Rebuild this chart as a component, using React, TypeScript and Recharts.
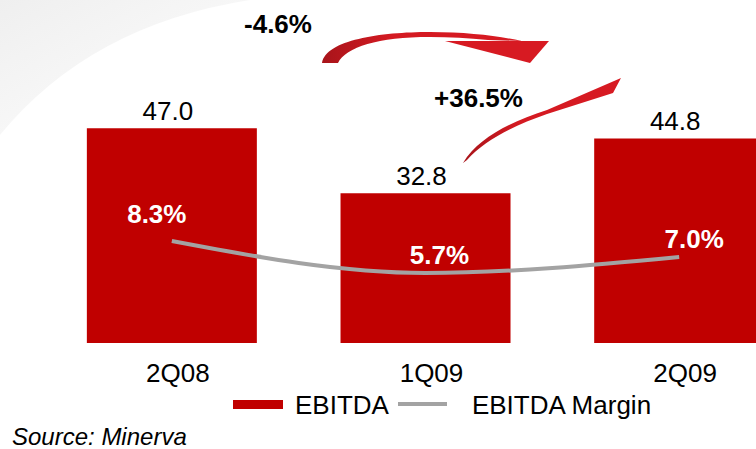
import React from 'react'
import {
  ComposedChart,
  Bar,
  Line,
  XAxis,
  YAxis,
  Legend,
  LabelList
} from 'recharts'

const categories = ['2Q08', '1Q09', '2Q09']
const ebitda = [47.0, 32.8, 44.8]
const ebitdaMargin = [8.3, 5.7, 7.0]
const changeLabels = ['-4.6%', '+36.5%']

const FONT = '"Liberation Sans", Arial, sans-serif'
const RED = '#C00000'
const GREY = '#A3A3A3'

// label nudges around the margin points (center of text relative to point)
const marginLabelNudge = [
  [-15, -27],
  [14, -18],
  [15, -18]
]

const data = categories.map((quarter, i) => ({
  quarter,
  ebitda: ebitda[i],
  margin: ebitdaMargin[i]
}))

function QuarterTick(props: any) {
  const { x, y, payload } = props
  return (
    <text x={x + 6} y={y + 31} textAnchor="middle" fontSize={26} fontFamily={FONT} fill="#000">
      {payload.value}
    </text>
  )
}

function BarValueLabel(props: any) {
  const vb = props.viewBox || props
  const cx = vb.x + vb.width / 2 - 4
  return (
    <text x={cx} y={vb.y - 8} textAnchor="middle" fontSize={26} fontFamily={FONT} fill="#000">
      {Number(props.value).toFixed(1)}
    </text>
  )
}

function MarginLabel(props: any) {
  const px = props.x ?? props.viewBox?.x
  const py = props.y ?? props.viewBox?.y
  const [dx, dy] = marginLabelNudge[props.index] || [0, -20]
  return (
    <text
      x={px + dx}
      y={py + dy}
      textAnchor="middle"
      dominantBaseline="central"
      fontSize={26}
      fontWeight="bold"
      fontFamily={FONT}
      fill="#fff"
    >
      {Number(props.value).toFixed(1)}%
    </text>
  )
}

function LegendBox(props: any) {
  const items = props.payload || []
  return (
    <div
      style={{
        display: 'flex',
        alignItems: 'center',
        paddingLeft: 233,
        fontFamily: FONT,
        fontSize: 26,
        lineHeight: '30px',
        color: '#000'
      }}
    >
      {items.map((item: any, i: number) => (
        <React.Fragment key={item.value}>
          {i === 0 ? (
            <span style={{ display: 'inline-block', width: 50, height: 9, background: RED, marginRight: 12, marginTop: -2 }} />
          ) : (
            <span style={{ display: 'inline-block', width: 49, height: 4, background: GREY, marginLeft: 9, marginRight: 25, marginTop: -2 }} />
          )}
          <span>{item.value}</span>
        </React.Fragment>
      ))}
    </div>
  )
}

export default function App() {
  return (
    <div style={{ position: 'absolute', left: 0, top: 0, width: 756, height: 449, overflow: 'hidden', background: '#fff' }}>
      <svg width={756} height={449} style={{ position: 'absolute', left: 0, top: 0 }}>
        <defs>
          <linearGradient id="corner" x1="0" y1="0" x2="1" y2="1">
            <stop offset="0%" stopColor="#efefef" />
            <stop offset="100%" stopColor="#ffffff" />
          </linearGradient>
        </defs>
        <path d="M0,0 H250 Q 90,25 0,135 Z" fill="url(#corner)" />
      </svg>

      <div style={{ position: 'absolute', left: 0, top: 0 }}>
        <ComposedChart
          width={806}
          height={449}
          data={data}
          margin={{ top: 69, right: 0, bottom: 76, left: 45 }}
          barCategoryGap="16.5%"
        >
          <XAxis
            dataKey="quarter"
            axisLine={false}
            tickLine={false}
            interval={0}
            tick={<QuarterTick />}
          />
          <YAxis yAxisId="left" hide domain={[0, 60]} />
          <YAxis yAxisId="right" hide orientation="right" domain={[0, 22.3]} />
          <Bar yAxisId="left" dataKey="ebitda" name="EBITDA" fill={RED} isAnimationActive={false}>
            <LabelList dataKey="ebitda" content={<BarValueLabel />} />
          </Bar>
          <Line
            yAxisId="right"
            type="monotone"
            dataKey="margin"
            name="EBITDA Margin"
            stroke={GREY}
            strokeWidth={4}
            dot={false}
            activeDot={false}
            isAnimationActive={false}
          >
            <LabelList dataKey="margin" content={<MarginLabel />} />
          </Line>
          <Legend
            layout="horizontal"
            verticalAlign="middle"
            align="center"
            content={<LegendBox />}
            wrapperStyle={{ position: 'absolute', left: 0, top: 390, width: 756 }}
          />
        </ComposedChart>
      </div>

      <svg width={756} height={449} style={{ position: 'absolute', left: 0, top: 0, pointerEvents: 'none' }}>
        <defs>
          <linearGradient id="arrowFill" x1="0" y1="0" x2="1" y2="0">
            <stop offset="0%" stopColor="#A8141A" />
            <stop offset="35%" stopColor="#D41A22" />
            <stop offset="100%" stopColor="#D71A22" />
          </linearGradient>
        </defs>
        {/* -4.6% arrow */}
        <path
          d="M322,63 C326,40 380,32 430,32 C468,32 498,36 522,41 L488,40 C468,38 450,37 430,37 C378,37 346,47 338,63 Z"
          fill="url(#arrowFill)"
        />
        <path d="M445,41 L549,41 L530,63 Z" fill="#D71A22" />
        {/* +36.5% arrow */}
        <path
          d="M463,163 C478,138 510,122 547,110 L621,78 L613,93 L547,114 C515,125 485,140 467,160 Z"
          fill="url(#arrowFill)"
        />
        <text x={278} y={33} textAnchor="middle" fontSize={26} fontWeight="bold" fontFamily={FONT} fill="#000">
          {changeLabels[0]}
        </text>
        <text x={478.5} y={107} textAnchor="middle" fontSize={26} fontWeight="bold" fontFamily={FONT} fill="#000">
          {changeLabels[1]}
        </text>
        <text x={12} y={445} fontSize={24} fontStyle="italic" fontFamily={FONT} fill="#000">
          Source: Minerva
        </text>
      </svg>
    </div>
  )
}
